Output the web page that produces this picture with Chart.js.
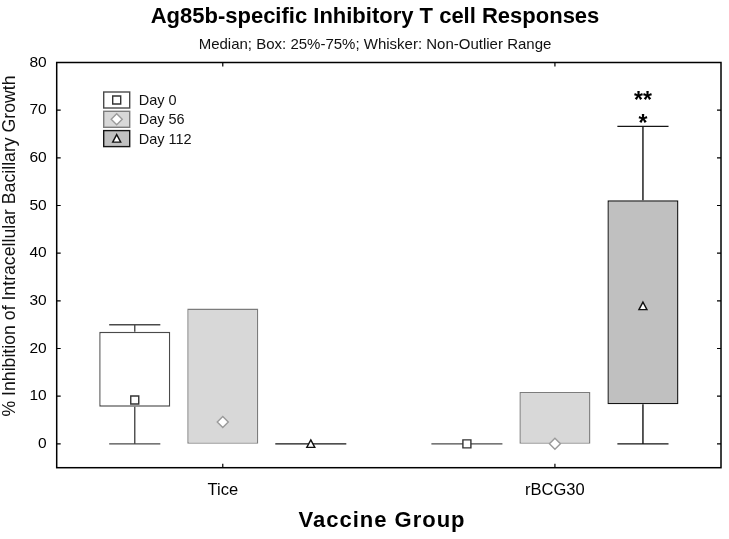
<!DOCTYPE html>
<html>
<head>
<meta charset="utf-8">
<script src="https://cdn.jsdelivr.net/npm/chart.js@4.4.0/dist/chart.umd.min.js"></script>
<style>
  html, body { margin: 0; padding: 0; background: #fff; }
</style>
</head>
<body>
<canvas id="chart" width="729" height="539"></canvas>
<script>
var FONT = '"Liberation Sans", Arial, sans-serif';

// categories and series
var groups = ['Tice', 'rBCG30'];
var days = ['Day 0', 'Day 56', 'Day 112'];
var yTicks = [0, 10, 20, 30, 40, 50, 60, 70, 80];

// box plot values per day, one entry per group
var day0Min = [0, 0],    day0Q1 = [7.8, 0],   day0Median = [9.2, 0],   day0Q3 = [23.5, 0],   day0Max = [25, 0];
var day56Min = [0, 0],   day56Q1 = [0, 0],    day56Median = [4.6, 0],  day56Q3 = [28.4, 10.9], day56Max = [28.4, 10.9];
var day112Min = [0, 0],  day112Q1 = [0, 8.3], day112Median = [0, 28.9], day112Q3 = [0, 51.1], day112Max = [0, 66.6];

// significance marks over the upper whisker
var day112Sig = ['', '*'];
var day112Sig2 = ['', '**'];

var mins = [day0Min, day56Min, day112Min];
var q1s = [day0Q1, day56Q1, day112Q1];
var medians = [day0Median, day56Median, day112Median];
var q3s = [day0Q3, day56Q3, day112Q3];
var maxs = [day0Max, day56Max, day112Max];
var sigs = [['', ''], ['', ''], day112Sig];
var sigs2 = [['', ''], ['', ''], day112Sig2];

var fills = ['#ffffff', '#d8d8d8', '#c0c0c0'];
var borders = ['#4a4a4a', '#7c7c7c', '#151515'];
var markerBorders = ['#333333', '#9a9a9a', '#111111'];

function drawMarker(ctx, i, x, y) {
    ctx.save();
    ctx.fillStyle = '#ffffff';
    ctx.strokeStyle = markerBorders[i];
    ctx.lineWidth = 1.4;
    ctx.beginPath();
    if (i === 0) {
        ctx.rect(x - 4, y - 4, 8, 8);
    } else if (i === 1) {
        ctx.moveTo(x, y - 5.5);
        ctx.lineTo(x + 5.5, y);
        ctx.lineTo(x, y + 5.5);
        ctx.lineTo(x - 5.5, y);
        ctx.closePath();
    } else {
        ctx.moveTo(x, y - 4);
        ctx.lineTo(x + 4, y + 3.5);
        ctx.lineTo(x - 4, y + 3.5);
        ctx.closePath();
    }
    ctx.fill();
    ctx.stroke();
    ctx.restore();
}

// whiskers, medians, frame, ticks, legend and axis titles
var boxExtras = {
    id: 'boxExtras',
    afterDatasetsDraw: function(chart) {
        var ctx = chart.ctx;
        var ys = chart.scales.y;
        var xs = chart.scales.x;
        var area = chart.chartArea;

        ctx.save();
        days.forEach(function(d, i) {
            var meta = chart.getDatasetMeta(i);
            meta.data.forEach(function(bar, j) {
                var x = bar.x, w = bar.width;
                var capW = w * 0.72;
                var pMin = ys.getPixelForValue(mins[i][j]);
                var pQ1 = ys.getPixelForValue(q1s[i][j]);
                var pQ3 = ys.getPixelForValue(q3s[i][j]);
                var pMax = ys.getPixelForValue(maxs[i][j]);
                ctx.strokeStyle = borders[i];
                ctx.lineWidth = 1.4;
                ctx.beginPath();
                if (q1s[i][j] === q3s[i][j]) {
                    ctx.moveTo(x - w / 2, pQ1);
                    ctx.lineTo(x + w / 2, pQ1);
                }
                if (maxs[i][j] > q3s[i][j]) {
                    ctx.moveTo(x, pQ3);
                    ctx.lineTo(x, pMax);
                    ctx.moveTo(x - capW / 2, pMax);
                    ctx.lineTo(x + capW / 2, pMax);
                }
                if (mins[i][j] < q1s[i][j]) {
                    ctx.moveTo(x, pQ1);
                    ctx.lineTo(x, pMin);
                    ctx.moveTo(x - capW / 2, pMin);
                    ctx.lineTo(x + capW / 2, pMin);
                }
                ctx.stroke();
                drawMarker(ctx, i, x, ys.getPixelForValue(medians[i][j]));

                ctx.fillStyle = '#000';
                ctx.font = 'bold 23px ' + FONT;
                ctx.textAlign = 'center';
                ctx.textBaseline = 'alphabetic';
                if (sigs[i][j]) ctx.fillText(sigs[i][j], x, pMax + 5);
                if (sigs2[i][j]) ctx.fillText(sigs2[i][j], x, pMax - 18);
            });
        });

        // frame
        ctx.strokeStyle = '#000';
        ctx.lineWidth = 1.5;
        ctx.strokeRect(area.left, area.top, area.right - area.left, area.bottom - area.top);

        // inward ticks
        ctx.lineWidth = 1.2;
        ctx.beginPath();
        ys.ticks.forEach(function(t) {
            var py = ys.getPixelForValue(t.value);
            ctx.moveTo(area.left, py);
            ctx.lineTo(area.left + 4, py);
            ctx.moveTo(area.right, py);
            ctx.lineTo(area.right - 4, py);
        });
        groups.forEach(function(g, k) {
            var px = xs.getPixelForValue(k);
            ctx.moveTo(px, area.bottom);
            ctx.lineTo(px, area.bottom - 4);
            ctx.moveTo(px, area.top);
            ctx.lineTo(px, area.top + 4);
        });
        ctx.stroke();

        // legend
        var lgX = area.left + 47, lgY = area.top + 29.5, lgStep = 19.3;
        ctx.font = '14.5px ' + FONT;
        ctx.textAlign = 'left';
        ctx.textBaseline = 'middle';
        days.forEach(function(d, i) {
            var top = lgY + i * lgStep;
            ctx.fillStyle = fills[i];
            ctx.fillRect(lgX, top, 26, 16);
            ctx.strokeStyle = borders[i];
            ctx.lineWidth = 1.4;
            ctx.strokeRect(lgX, top, 26, 16);
            drawMarker(ctx, i, lgX + 13, top + 8);
            ctx.fillStyle = '#111';
            ctx.fillText(d, lgX + 35, top + 9);
        });

        // axis titles
        ctx.fillStyle = '#000';
        ctx.font = 'bold 22px ' + FONT;
        ctx.textAlign = 'center';
        ctx.textBaseline = 'middle';
        ctx.letterSpacing = '1px';
        ctx.fillText('Vaccine Group', 382, 521);
        ctx.letterSpacing = '0px';

        ctx.save();
        ctx.translate(10, 246);
        ctx.rotate(-Math.PI / 2);
        ctx.font = '17.7px ' + FONT;
        ctx.fillStyle = '#111';
        ctx.fillText('% Inhibition of Intracellular Bacillary Growth', 0, 0);
        ctx.restore();

        ctx.restore();
    }
};

var datasets = days.map(function(d, i) {
    return {
        label: d,
        data: groups.map(function(g, j) { return [q1s[i][j], q3s[i][j]]; }),
        backgroundColor: fills[i],
        borderColor: borders[i],
        borderWidth: 1.4,
        borderSkipped: false,
        categoryPercentage: 0.795,
        barPercentage: 0.807
    };
});

new Chart(document.getElementById('chart').getContext('2d'), {
    type: 'bar',
    data: { labels: groups, datasets: datasets },
    options: {
        responsive: false,
        animation: false,
        events: [],
        layout: { padding: { left: 29, right: 8, top: 0, bottom: 0 } },
        plugins: {
            legend: { display: false },
            tooltip: { enabled: false },
            title: {
                display: true,
                text: 'Ag85b-specific Inhibitory T cell Responses',
                color: '#000',
                font: { family: FONT, size: 22, weight: 'bold', lineHeight: 1.2 },
                padding: { top: 4, bottom: 5.6 }
            },
            subtitle: {
                display: true,
                text: 'Median; Box: 25%-75%; Whisker: Non-Outlier Range',
                color: '#111',
                font: { family: FONT, size: 15, lineHeight: 1.2 },
                padding: { top: 0, bottom: 8.5 }
            }
        },
        scales: {
            x: {
                type: 'category',
                grid: { display: false, drawTicks: false },
                border: { display: false },
                ticks: { color: '#000', font: { family: FONT, size: 16.5 }, padding: 13, maxRotation: 0 },
                afterFit: function(s) { s.height = 71.3; }
            },
            y: {
                min: -5,
                max: 80,
                grid: { display: false, drawTicks: false },
                border: { display: false },
                ticks: { color: '#000', font: { family: FONT, size: 15.5 }, padding: 10 },
                afterBuildTicks: function(s) {
                    s.ticks = yTicks.map(function(v) { return { value: v }; });
                },
                afterFit: function(s) { s.width = 27.7; }
            }
        }
    },
    plugins: [boxExtras]
});
</script>
</body>
</html>
